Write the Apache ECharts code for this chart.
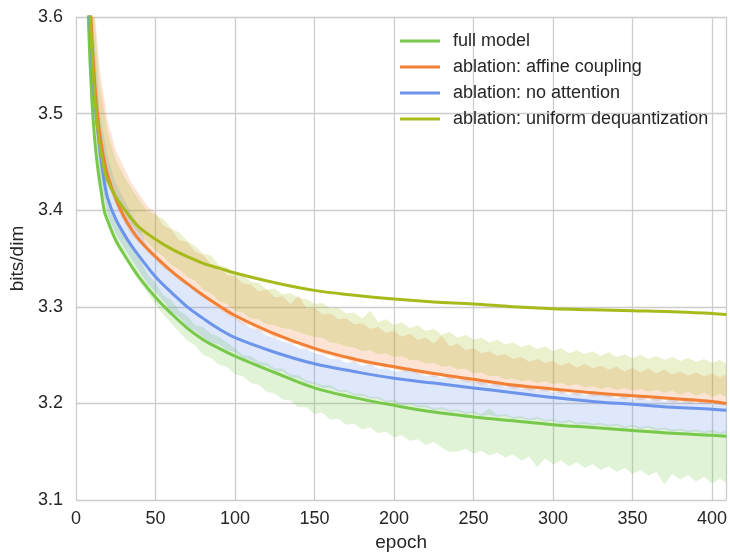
<!DOCTYPE html>
<html>
<head>
<meta charset="utf-8">
<script src="https://cdn.jsdelivr.net/npm/echarts@6/dist/echarts.min.js"></script>
<style>
html,body{margin:0;padding:0;background:#fff;}
#chart{width:730px;height:557px;}
</style>
</head>
<body>
<div id="chart"></div>
<script>
// ---- smoothed curves ----
var lineEpochs = [6,8,10,12,14,16,18,20,25,30,35,40,50,60,70,80,90,100,125,150,175,200,225,250,275,300,325,350,375,400,409];
var fullModel  = [3.72,3.59,3.515,3.470,3.440,3.418,3.398,3.389,3.369,3.355,3.342,3.330,3.310,3.293,3.278,3.266,3.257,3.249,3.232,3.216,3.206,3.198,3.191,3.186,3.182,3.178,3.175,3.172,3.169,3.167,3.166];
var affine     = [3.76,3.66,3.58,3.528,3.492,3.468,3.450,3.436,3.412,3.394,3.380,3.369,3.352,3.337,3.324,3.312,3.301,3.291,3.272,3.257,3.246,3.238,3.231,3.225,3.219,3.215,3.211,3.208,3.205,3.202,3.200];
var noAttn     = [3.74,3.63,3.555,3.51,3.478,3.450,3.428,3.412,3.391,3.376,3.363,3.352,3.331,3.315,3.300,3.288,3.277,3.268,3.253,3.241,3.233,3.226,3.221,3.216,3.211,3.206,3.202,3.199,3.196,3.194,3.193];
var uniform    = [3.74,3.64,3.565,3.515,3.480,3.458,3.441,3.430,3.414,3.402,3.391,3.382,3.370,3.360,3.352,3.345,3.340,3.335,3.325,3.317,3.312,3.308,3.305,3.303,3.300,3.298,3.297,3.296,3.295,3.293,3.292];

// ---- raw (noisy) bands ----
var bandEpochs = [7,10,15,20,25,30,35,40,45,50,55,60,65,70,75,80,85,90,95,100,105,110,115,120,125,130,135,140,145,150,155,160,165,170,175,180,185,190,195,200,205,210,215,220,225,230,235,240,245,250,255,260,265,270,275,280,285,290,295,300,305,310,315,320,325,330,335,340,345,350,355,360,365,370,375,380,385,390,395,400,405,409];
var fullLo = [3.640,3.522,3.424,3.383,3.364,3.352,3.338,3.326,3.314,3.303,3.292,3.283,3.274,3.265,3.260,3.250,3.247,3.240,3.238,3.230,3.228,3.221,3.219,3.212,3.210,3.204,3.203,3.196,3.196,3.189,3.190,3.183,3.184,3.178,3.179,3.173,3.175,3.169,3.171,3.165,3.167,3.161,3.163,3.157,3.160,3.154,3.150,3.150,3.153,3.148,3.151,3.146,3.149,3.144,3.147,3.141,3.145,3.134,3.143,3.137,3.141,3.135,3.139,3.133,3.137,3.131,3.135,3.129,3.133,3.127,3.131,3.125,3.129,3.116,3.127,3.121,3.126,3.119,3.124,3.117,3.122,3.118];
var fullHi = [3.700,3.600,3.462,3.420,3.392,3.380,3.364,3.350,3.334,3.325,3.312,3.307,3.296,3.291,3.281,3.279,3.272,3.269,3.263,3.257,3.250,3.249,3.243,3.242,3.236,3.236,3.230,3.229,3.224,3.222,3.219,3.219,3.214,3.214,3.210,3.210,3.207,3.207,3.203,3.204,3.200,3.201,3.198,3.198,3.195,3.196,3.193,3.194,3.191,3.192,3.189,3.195,3.188,3.189,3.186,3.187,3.184,3.186,3.183,3.184,3.181,3.183,3.180,3.181,3.179,3.180,3.178,3.179,3.176,3.178,3.175,3.177,3.174,3.175,3.173,3.174,3.172,3.173,3.171,3.173,3.170,3.172];
var noAttnLo = [3.650,3.533,3.435,3.395,3.376,3.362,3.349,3.336,3.324,3.315,3.306,3.295,3.289,3.280,3.275,3.268,3.263,3.261,3.255,3.253,3.247,3.245,3.240,3.239,3.234,3.233,3.227,3.226,3.221,3.220,3.216,3.216,3.212,3.212,3.208,3.208,3.205,3.205,3.201,3.202,3.198,3.199,3.196,3.196,3.193,3.194,3.191,3.192,3.189,3.190,3.187,3.188,3.186,3.187,3.184,3.185,3.182,3.184,3.181,3.182,3.179,3.181,3.178,3.179,3.177,3.178,3.176,3.177,3.174,3.176,3.173,3.175,3.172,3.173,3.171,3.172,3.170,3.171,3.169,3.170,3.168,3.169];
var noAttnHi = [3.720,3.610,3.500,3.455,3.428,3.412,3.396,3.383,3.361,3.352,3.341,3.337,3.328,3.324,3.316,3.311,3.302,3.299,3.292,3.289,3.283,3.278,3.276,3.270,3.268,3.264,3.262,3.257,3.256,3.252,3.250,3.246,3.246,3.242,3.243,3.239,3.240,3.236,3.236,3.233,3.233,3.238,3.231,3.228,3.229,3.226,3.227,3.224,3.225,3.222,3.223,3.219,3.221,3.217,3.219,3.215,3.217,3.213,3.215,3.211,3.213,3.209,3.212,3.208,3.210,3.212,3.209,3.205,3.208,3.204,3.207,3.203,3.206,3.202,3.205,3.201,3.204,3.200,3.203,3.199,3.202,3.198];
var affineLo = [3.660,3.572,3.470,3.428,3.405,3.388,3.374,3.366,3.357,3.349,3.340,3.335,3.327,3.323,3.315,3.310,3.302,3.298,3.291,3.288,3.282,3.280,3.275,3.273,3.268,3.267,3.262,3.261,3.256,3.255,3.251,3.250,3.246,3.246,3.242,3.242,3.239,3.239,3.236,3.236,3.233,3.233,3.230,3.230,3.227,3.228,3.225,3.225,3.222,3.222,3.219,3.220,3.217,3.218,3.215,3.216,3.213,3.214,3.212,3.213,3.210,3.211,3.208,3.210,3.207,3.208,3.206,3.207,3.204,3.206,3.203,3.205,3.202,3.204,3.201,3.202,3.200,3.201,3.199,3.200,3.198,3.198];
var affineHi = [3.750,3.640,3.545,3.492,3.462,3.445,3.428,3.416,3.404,3.398,3.384,3.380,3.369,3.367,3.357,3.354,3.344,3.342,3.333,3.332,3.324,3.323,3.316,3.318,3.310,3.311,3.303,3.312,3.298,3.299,3.292,3.293,3.287,3.288,3.282,3.283,3.277,3.279,3.273,3.275,3.269,3.272,3.266,3.268,3.262,3.270,3.259,3.262,3.255,3.257,3.252,3.254,3.249,3.251,3.246,3.248,3.243,3.246,3.242,3.244,3.239,3.242,3.237,3.241,3.236,3.239,3.235,3.238,3.233,3.237,3.232,3.236,3.231,3.235,3.230,3.233,3.229,3.232,3.228,3.231,3.227,3.230];
var uniformLo = [3.670,3.585,3.483,3.441,3.417,3.399,3.385,3.376,3.367,3.358,3.352,3.343,3.339,3.331,3.327,3.318,3.314,3.306,3.303,3.296,3.294,3.288,3.287,3.282,3.281,3.278,3.277,3.274,3.271,3.269,3.268,3.263,3.262,3.259,3.258,3.254,3.255,3.251,3.252,3.248,3.249,3.245,3.245,3.241,3.242,3.238,3.239,3.235,3.236,3.231,3.232,3.228,3.229,3.225,3.226,3.223,3.224,3.221,3.223,3.220,3.221,3.218,3.220,3.217,3.218,3.215,3.217,3.214,3.216,3.213,3.215,3.212,3.214,3.211,3.213,3.209,3.212,3.208,3.211,3.207,3.210,3.206];
var uniformHi = [3.740,3.630,3.530,3.480,3.452,3.436,3.422,3.410,3.399,3.395,3.391,3.381,3.377,3.368,3.363,3.355,3.353,3.343,3.341,3.334,3.333,3.326,3.325,3.318,3.319,3.313,3.314,3.309,3.308,3.303,3.304,3.298,3.299,3.293,3.294,3.288,3.296,3.284,3.287,3.281,3.284,3.278,3.281,3.275,3.277,3.271,3.274,3.268,3.271,3.266,3.268,3.263,3.266,3.261,3.263,3.258,3.261,3.256,3.259,3.254,3.257,3.252,3.255,3.251,3.254,3.249,3.253,3.248,3.251,3.247,3.250,3.246,3.249,3.245,3.248,3.244,3.247,3.243,3.246,3.242,3.245,3.241];

var names = ['full model','ablation: affine coupling','ablation: no attention','ablation: uniform dequantization'];
var colors = ['#77c84b','#f17f35','#6b94ea','#a6ba1c'];

function pairs(xs, ys){ return xs.map(function(x,i){ return [x, ys[i]]; }); }

function bandSeries(lo, hi, color){
  return {
    type: 'custom', silent: true, clip: true, z: 1,
    data: [[bandEpochs[0], lo[0]]],
    renderItem: function(params, api){
      var pts = [];
      for (var i = 0; i < bandEpochs.length; i++) pts.push(api.coord([bandEpochs[i], hi[i]]));
      for (var j = bandEpochs.length - 1; j >= 0; j--) pts.push(api.coord([bandEpochs[j], lo[j]]));
      var cs = params.coordSys;
      return {
        type: 'polygon', shape: {points: pts},
        style: {fill: color, opacity: 0.22},
        clipPath: {type: 'rect', shape: {x: cs.x, y: cs.y, width: cs.width, height: cs.height}}
      };
    }
  };
}
function lineSeries(name, ys, color){
  return {
    type: 'line', name: name, data: pairs(lineEpochs, ys), smooth: 0.4,
    symbol: 'none', clip: true, z: 3,
    lineStyle: {width: 3, color: color}, itemStyle: {color: color}
  };
}

var chart = echarts.init(document.getElementById('chart'), null, {renderer: 'canvas'});
chart.setOption({
  animation: false,
  backgroundColor: '#ffffff',
  textStyle: {fontFamily: 'Liberation Sans, Arial, sans-serif'},
  grid: {left: 74, right: 2, top: 17, bottom: 52, containLabel: false},
  legend: {
    data: names, orient: 'vertical', left: 400, top: 32, padding: 0,
    icon: 'rect', itemWidth: 40, itemHeight: 3, itemGap: 8,
    textStyle: {fontSize: 18, color: '#262626', lineHeight: 18, padding: [0,0,0,8]},
    selectedMode: false
  },
  xAxis: {
    type: 'value', min: 0, max: 409, interval: 50,
    name: 'epoch', nameLocation: 'middle', nameGap: 33,
    nameTextStyle: {fontSize: 19, color: '#262626'},
    axisLine: {show: false}, axisTick: {show: false},
    axisLabel: {fontSize: 18, color: '#262626', margin: 10,
      formatter: function(v){ return v % 50 === 0 ? String(v) : ''; }},
    splitLine: {show: true, lineStyle: {color: '#cccccc', width: 1.3}}
  },
  yAxis: {
    type: 'value', min: 3.1, max: 3.6, interval: 0.1,
    name: 'bits/dim', nameLocation: 'middle', nameGap: 45,
    nameTextStyle: {fontSize: 19, color: '#262626'},
    axisLine: {show: false}, axisTick: {show: false},
    axisLabel: {fontSize: 18, color: '#262626', margin: 13,
      formatter: function(v){ return v.toFixed(1); }},
    splitLine: {show: true, lineStyle: {color: '#cccccc', width: 1.3}}
  },
  series: [
    bandSeries(fullLo, fullHi, colors[0]),
    bandSeries(affineLo, affineHi, colors[1]),
    bandSeries(noAttnLo, noAttnHi, colors[2]),
    bandSeries(uniformLo, uniformHi, colors[3]),
    lineSeries(names[0], fullModel, colors[0]),
    lineSeries(names[1], affine, colors[1]),
    lineSeries(names[2], noAttn, colors[2]),
    lineSeries(names[3], uniform, colors[3])
  ]
});
</script>
</body>
</html>
